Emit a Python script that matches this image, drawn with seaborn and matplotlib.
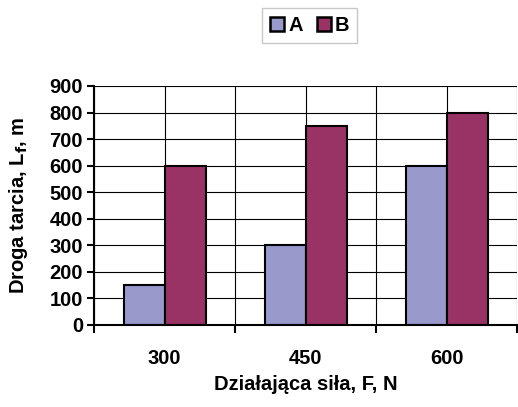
import pandas as pd
import seaborn as sns
import matplotlib.pyplot as plt
from matplotlib.patches import Patch

# Values
forces = ["300", "450", "600"]
series_a = [150, 300, 600]
series_b = [600, 750, 800]
colors = {"A": "#9999CC", "B": "#993366"}

df = pd.DataFrame({
    "Force": forces * 2,
    "Distance": series_a + series_b,
    "Series": ["A"] * 3 + ["B"] * 3,
})

sns.set_style("white")
plt.rcParams['font.family'] = ['Liberation Sans', 'DejaVu Sans']
plt.rcParams['font.weight'] = 'bold'
for key in ['text.color', 'axes.labelcolor', 'xtick.color', 'ytick.color']:
    plt.rcParams[key] = 'black'
fs = 14.5

fig = plt.figure(figsize=(5.18, 4.07), dpi=100)
ax = fig.add_axes([0.1815, 0.2015, 0.8175, 0.5872])

sns.barplot(data=df, x="Force", y="Distance", hue="Series", palette=colors,
            saturation=1, width=0.58, edgecolor="black", linewidth=1.5,
            ax=ax, legend=False)

ax.set_axisbelow(True)
ax.set_xlim(-0.5, 2.5)
ax.set_ylim(0, 900)
ax.set_yticks(range(0, 901, 100))
ax.set_xticks([0, 1, 2])
ax.set_xticks([-0.5, 0.5, 1.5, 2.5], minor=True)
ax.tick_params(axis="x", which="major", length=0, pad=17, labelsize=fs)
ax.tick_params(axis="x", which="minor", length=6, width=1.5, color="black", direction="out", bottom=True)
ax.tick_params(axis="y", length=5, width=1.5, color="black", direction="out", left=True, labelsize=fs, pad=3)
ax.grid(True, which="both", axis="x", color="black", linewidth=0.8)
ax.grid(True, which="major", axis="y", color="black", linewidth=0.8)

for side in ["top", "right"]:
    ax.spines[side].set_visible(False)
for side in ["left", "bottom"]:
    ax.spines[side].set_color("black")
    ax.spines[side].set_linewidth(1.5)

ax.set_xlabel("Działająca siła, F, N", fontsize=fs, fontweight="bold", labelpad=5)
ax.set_ylabel("Droga tarcia, L$_\\mathbf{f}$, m", fontsize=fs, fontweight="bold", labelpad=14)

handles = [Patch(facecolor=colors[s], edgecolor="black", linewidth=1.8, label=s) for s in ["A", "B"]]
leg = fig.legend(handles=handles, loc="upper center", bbox_to_anchor=(0.598, 1.005), ncol=2,
                 frameon=True, fancybox=False, handlelength=0.7, handleheight=0.7,
                 handletextpad=0.2, columnspacing=0.7, borderpad=0.4,
                 prop={"weight": "bold", "size": fs})
leg.get_frame().set_edgecolor("#BBBBBB")
leg.get_frame().set_linewidth(1.0)

fig.savefig("out.png", dpi=100)
